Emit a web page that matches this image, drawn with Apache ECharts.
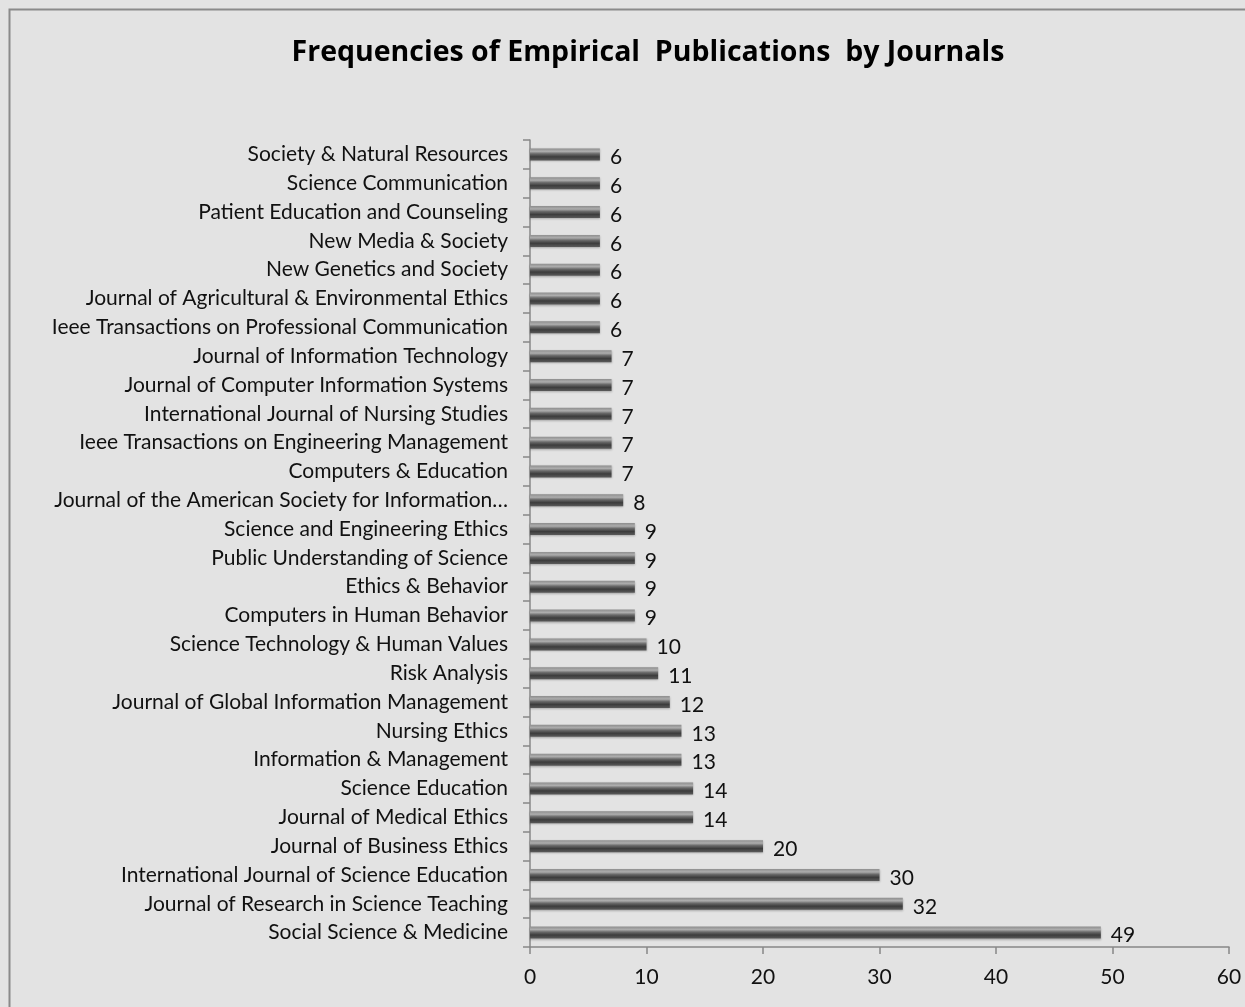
<!DOCTYPE html>
<html>
<head>
<meta charset="utf-8">
<script src="https://cdn.jsdelivr.net/npm/echarts@6/dist/echarts.min.js"></script>
<style>
  html, body { margin: 0; padding: 0; background: #e3e3e3; }
  #chart { width: 1245px; height: 1007px; }
</style>
</head>
<body>
<div id="chart"></div>
<script>
// journals, listed bottom to top
var journals = [
    'Social Science & Medicine',
    'Journal of Research in Science Teaching',
    'International Journal of Science Education',
    'Journal of Business Ethics',
    'Journal of Medical Ethics',
    'Science Education',
    'Information & Management',
    'Nursing Ethics',
    'Journal of Global Information Management',
    'Risk Analysis',
    'Science Technology & Human Values',
    'Computers in Human Behavior',
    'Ethics & Behavior',
    'Public Understanding of Science',
    'Science and Engineering Ethics',
    'Journal of the American Society for Information…',
    'Computers & Education',
    'Ieee Transactions on Engineering Management',
    'International Journal of Nursing Studies',
    'Journal of Computer Information Systems',
    'Journal of Information Technology',
    'Ieee Transactions on Professional Communication',
    'Journal of Agricultural & Environmental Ethics',
    'New Genetics and Society',
    'New Media & Society',
    'Patient Education and Counseling',
    'Science Communication',
    'Society & Natural Resources'
];
var counts = [49, 32, 30, 20, 14, 14, 13, 13, 12, 11, 10, 9, 9, 9, 9, 8, 7, 7, 7, 7, 7, 6, 6, 6, 6, 6, 6, 6];
var xTicks = [0, 10, 20, 30, 40, 50, 60];

var chart = echarts.init(document.getElementById('chart'));
var font = 'Lato, "Open Sans", sans-serif';

var option = {
    backgroundColor: '#e3e3e3',
    animation: false,
    graphic: [{
        type: 'rect',
        shape: { x: 9.5, y: 9.5, width: 1260, height: 1020 },
        style: { fill: 'none', stroke: '#8a8a8a', lineWidth: 2 },
        silent: true
    }],
    title: {
        text: 'Frequencies of Empirical  Publications  by Journals',
        left: 643,
        top: 33,
        textAlign: 'center',
        textStyle: { fontFamily: '"Open Sans", sans-serif', fontSize: 28.5, fontWeight: 'bold', color: '#000' }
    },
    grid: { left: 530, right: 16, top: 140, bottom: 60, containLabel: false },
    xAxis: {
        type: 'value',
        min: 0,
        max: 60,
        interval: 10,
        axisLine: { show: true, lineStyle: { color: '#888', width: 1.5 } },
        axisTick: { show: true, length: 7, lineStyle: { color: '#888', width: 1.5 } },
        splitLine: { show: false },
        axisLabel: {
            margin: 20,
            fontFamily: font, fontSize: 21, color: '#111',
            formatter: function (v) { return xTicks.indexOf(v) >= 0 ? String(v) : ''; }
        }
    },
    yAxis: {
        type: 'category',
        data: journals,
        axisLine: { show: true, lineStyle: { color: '#888', width: 1.5 } },
        axisTick: { show: true, length: 7, lineStyle: { color: '#888', width: 1.5 } },
        axisLabel: { margin: 22, fontFamily: font, fontSize: 21, color: '#111' }
    },
    series: [{
        type: 'bar',
        data: counts,
        barWidth: 12,
        itemStyle: {
            color: new echarts.graphic.LinearGradient(0, 0, 0, 1, [
                { offset: 0, color: '#8e8e8e' },
                { offset: 0.25, color: '#adadad' },
                { offset: 0.45, color: '#6a6a6a' },
                { offset: 0.7, color: '#3c3c3c' },
                { offset: 1, color: '#5a5a5a' }
            ]),
            shadowColor: 'rgba(0,0,0,0.25)',
            shadowBlur: 2,
            shadowOffsetY: 1
        },
        label: {
            show: true,
            position: 'right',
            distance: 10,
            fontFamily: font, fontSize: 21, color: '#111',
            offset: [0, 3]
        }
    }]
};
chart.setOption(option);
</script>
</body>
</html>
